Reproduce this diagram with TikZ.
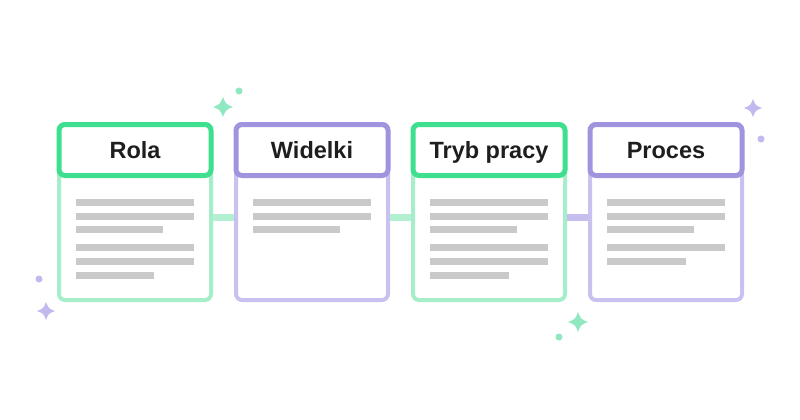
\documentclass[tikz,border=0pt]{standalone}
\usepackage{fontspec}
\setmainfont{Liberation Sans}
\definecolor{gstrong}{HTML}{3EDF8E}
\definecolor{glight}{HTML}{A6EECA}
\definecolor{pstrong}{HTML}{A094DE}
\definecolor{plight}{HTML}{C9C1EF}
\definecolor{gconn}{HTML}{B3EFD1}
\definecolor{pconn}{HTML}{C6BEEE}
\definecolor{txtbar}{HTML}{C9C9C9}
\definecolor{gspark}{HTML}{8FE8C0}
\definecolor{pspark}{HTML}{C2BAEE}
\definecolor{ink}{HTML}{1E1E1E}
\tikzset{
  bodybox/.style={draw, line width=4pt, rounded corners=6pt, fill=white,
    minimum width=152pt, minimum height=176pt, inner sep=0pt},
  headbox/.style={draw, line width=5pt, rounded corners=6pt, fill=white,
    minimum width=152pt, minimum height=51pt, inner sep=0pt,
    text height=20pt, text depth=3.4pt,
    font=\fontsize{23.5}{26}\selectfont\bfseries, text=ink},
  conn/.style={line width=7pt},
  bar/.style={draw=txtbar, line width=7pt},
  pics/sparkle/.style={code={
    \fill (0,#1) .. controls (0.28*#1,0.28*#1) .. (#1,0)
      .. controls (0.28*#1,-0.28*#1) .. (0,-#1)
      .. controls (-0.28*#1,-0.28*#1) .. (-#1,0)
      .. controls (-0.28*#1,0.28*#1) .. (0,#1) -- cycle;}}
}
\begin{document}
\begin{tikzpicture}[x=1pt,y=-1pt]
\useasboundingbox[fill=white] (0,0) rectangle (800,420);
% bodies
\node[bodybox, draw=glight] (b1) at (135,212) {};
\node[bodybox, draw=plight] (b2) at (312,212) {};
\node[bodybox, draw=glight] (b3) at (489,212) {};
\node[bodybox, draw=plight] (b4) at (666,212) {};
% connectors
\draw[conn, gconn] ([yshift=-5pt]b1.east) -- ([yshift=-5pt]b2.west);
\draw[conn, gconn] ([yshift=-5pt]b2.east) -- ([yshift=-5pt]b3.west);
\draw[conn, pconn] ([yshift=-5pt]b3.east) -- ([yshift=-5pt]b4.west);
% headers
\node[headbox, draw=gstrong] (h1) at (135,150) {Rola};
\node[headbox, draw=pstrong] (h2) at (312,150) {Widelki};
\node[headbox, draw=gstrong] (h3) at (489,150) {Tryb pracy};
\node[headbox, draw=pstrong] (h4) at (666,150) {Proces};
% text bars
\foreach \cx/\rows in {135/{202/59,216/59,229.5/28,247/59,261/59,275/19},
                      312/{202/59,216/59,229.5/28},
                      489/{202/59,216/59,229.5/28,247/59,261/59,275/20},
                      666/{202/59,216/59,229.5/28,247/59,261/20}}{
  \foreach \yy/\rr in \rows {
    \draw[bar] (\cx-59,\yy) -- (\cx+\rr,\yy);
  }
}
% sparkles
\pic[gspark] at (223,107) {sparkle=10};
\fill[gspark] (239,91) circle (3.5);
\pic[pspark] at (753,108) {sparkle=9};
\fill[pspark] (761,139) circle (3.5);
\pic[gspark] at (578,322) {sparkle=10};
\fill[gspark] (559,337) circle (3.5);
\pic[pspark] at (46,311) {sparkle=9};
\fill[pspark] (39,279) circle (3.5);
\end{tikzpicture}
\end{document}
